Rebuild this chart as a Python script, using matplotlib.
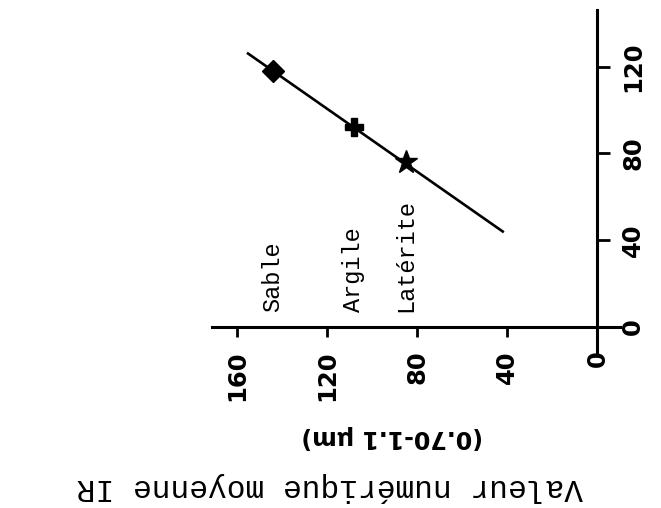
import matplotlib
matplotlib.use("Agg")
import matplotlib.pyplot as plt

# values (x = mean IR digital number)
soils = ["Sable", "Argile", "Latérite"]
ir_mean = [144, 108, 85]
other_band = [118, 92, 76]
markers = ["D", "P", "*"]
marker_sizes = [11, 13, 17]

# regression line end points
fit_x = [155, 42]
fit_y = [126, 44]

x_ticks = [0, 40, 80, 120, 160]
y_ticks = [0, 40, 80, 120]

fig = plt.figure(figsize=(6.61, 5.08), dpi=100)
ax = fig.add_axes([0.3207, 0.3071, 0.6172, 0.673])

ax.plot(fit_x, fit_y, color="black", lw=1.9, zorder=2)
for x, y, m, s in zip(ir_mean, other_band, markers, marker_sizes):
    ax.plot(x, y, marker=m, ms=s, color="black", zorder=3)

for name, x in zip(soils, ir_mean):
    ax.text(x, 7, name, rotation=90, ha="center", va="bottom",
            family="Liberation Mono", fontsize=17, color="black")

ax.set_xlim(171, -10)
ax.set_ylim(-11.5, 146)

ax.spines["top"].set_visible(False)
ax.spines["left"].set_visible(False)
ax.spines["bottom"].set_position(("data", 0))
ax.spines["right"].set_position(("data", 0))
for sp in ("bottom", "right"):
    ax.spines[sp].set_linewidth(2.2)
    ax.spines[sp].set_zorder(5)

ax.yaxis.tick_right()
ax.set_xticks(x_ticks)
ax.set_yticks(y_ticks)
ax.set_xticklabels([str(v) for v in x_ticks], rotation=90,
                   fontweight="heavy", fontsize=17.5)
ax.set_yticklabels([str(v) for v in y_ticks], rotation=90,
                   fontweight="heavy", fontsize=17.5, va="center")
ax.tick_params(axis="x", direction="out", length=7, width=2, pad=10)
ax.tick_params(axis="y", direction="out", length=9, width=2, pad=8)

fig.text(392 / 661, 1 - 437 / 508, "(0.70-1.1 µm)", rotation=180,
         ha="center", va="center", fontweight="heavy", fontsize=17)
fig.text(330 / 661, 1 - 487 / 508, "Valeur numérique moyenne IR", rotation=180,
         ha="center", va="center", family="Liberation Mono", fontsize=22.5)

fig.savefig("out.png", dpi=100)
